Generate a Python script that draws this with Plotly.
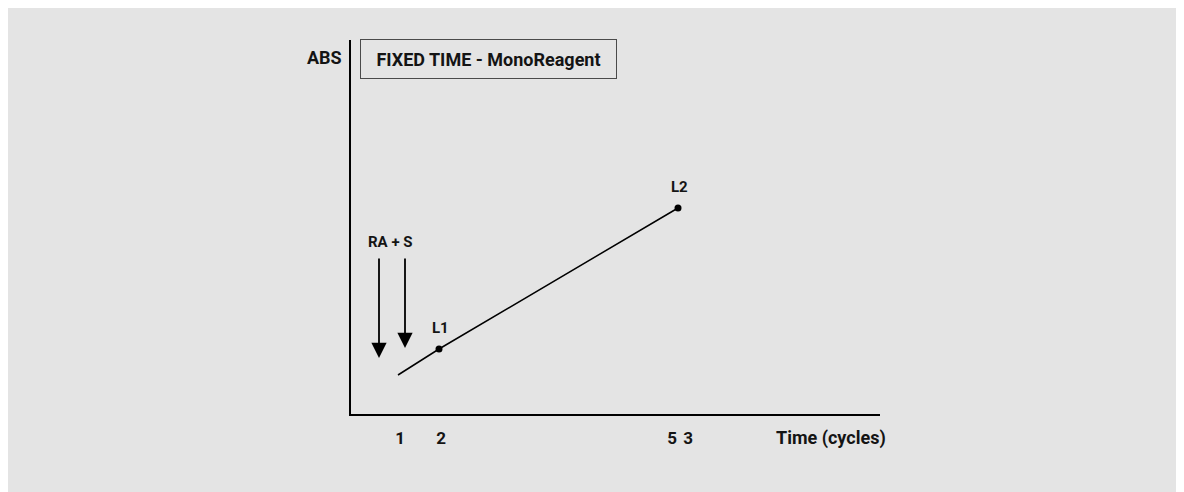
# Fixed time (mono-reagent) reaction diagram: absorbance vs time with read points L1 and L2.
import plotly.graph_objects as go

# data (x in arbitrary time units, y in arbitrary absorbance units)
line_x = [47, 88, 327]
line_y = [39, 65, 206]
point_x = [88, 327]
point_y = [65, 206]
point_labels = ["L1", "L2"]

arrow_x = [28, 54]
arrow_tip_y = [56, 66]
arrow_tail_y = [157, 157]

tick_vals = [49, 90, 321, 337]
tick_text = ["1", "2", "5", "3"]

X_MAX, Y_MAX = 529, 374
BG = "#e4e4e4"
INK = "#141414"
FONT = "Roboto"

fig = go.Figure()
fig.add_trace(go.Scatter(x=line_x, y=line_y, mode="lines",
                         line=dict(color="black", width=1.5), hoverinfo="skip"))
fig.add_trace(go.Scatter(x=point_x, y=point_y, mode="markers",
                         marker=dict(color="black", size=7), hoverinfo="skip"))

ann = []
# read point labels
for px, py, lab in zip(point_x, point_y, point_labels):
    ann.append(dict(x=px + 1, y=py + 21, text=f"<b>{lab}</b>", showarrow=False,
                    font=dict(size=15, color=INK)))
# reagent + sample arrows
for ax_, tip, tail in zip(arrow_x, arrow_tip_y, arrow_tail_y):
    ann.append(dict(x=ax_, y=tip, ax=ax_, ay=tail, axref="x", ayref="y",
                    xref="x", yref="y", text="", showarrow=True,
                    arrowhead=2, arrowsize=1.7, arrowwidth=1.8, arrowcolor="black"))
ann.append(dict(x=39, y=172, text="<b>RA + S</b>", showarrow=False,
                font=dict(size=15, color=INK)))
# title box
ann.append(dict(x=137.5, y=355, text="<b>FIXED TIME - MonoReagent</b>", showarrow=False,
                font=dict(size=18, color=INK), bordercolor="#4a4a4a", borderwidth=1,
                borderpad=4, width=247, height=30, bgcolor=BG))
# labels outside the plot area (paper coordinates)
ann.append(dict(xref="paper", yref="paper", x=-27 / X_MAX, y=356 / Y_MAX,
                xanchor="center", yanchor="middle",
                text="<b>ABS</b>", showarrow=False, font=dict(size=18, color=INK)))
ann.append(dict(xref="paper", yref="paper", x=480 / X_MAX, y=-24 / Y_MAX,
                xanchor="center", yanchor="middle",
                text="<b>Time (cycles)</b>", showarrow=False, font=dict(size=18, color=INK)))

fig.update_layout(
    width=1184, height=492,
    margin=dict(l=343, r=312, t=32, b=86),
    paper_bgcolor=BG, plot_bgcolor=BG,
    showlegend=False,
    font=dict(family=FONT, color=INK),
    annotations=ann,
    xaxis=dict(range=[0, X_MAX], showgrid=False, zeroline=False,
               showline=True, linecolor="black", linewidth=1.8,
               tickvals=tick_vals, ticktext=[f"<b>{t}</b>" for t in tick_text],
               ticks="", tickfont=dict(size=17, color=INK),
               ticklabelstandoff=8),
    yaxis=dict(range=[0, Y_MAX], showgrid=False, zeroline=False,
               showline=True, linecolor="black", linewidth=1.8,
               showticklabels=False, ticks=""),
)

fig.write_html("out.html")
